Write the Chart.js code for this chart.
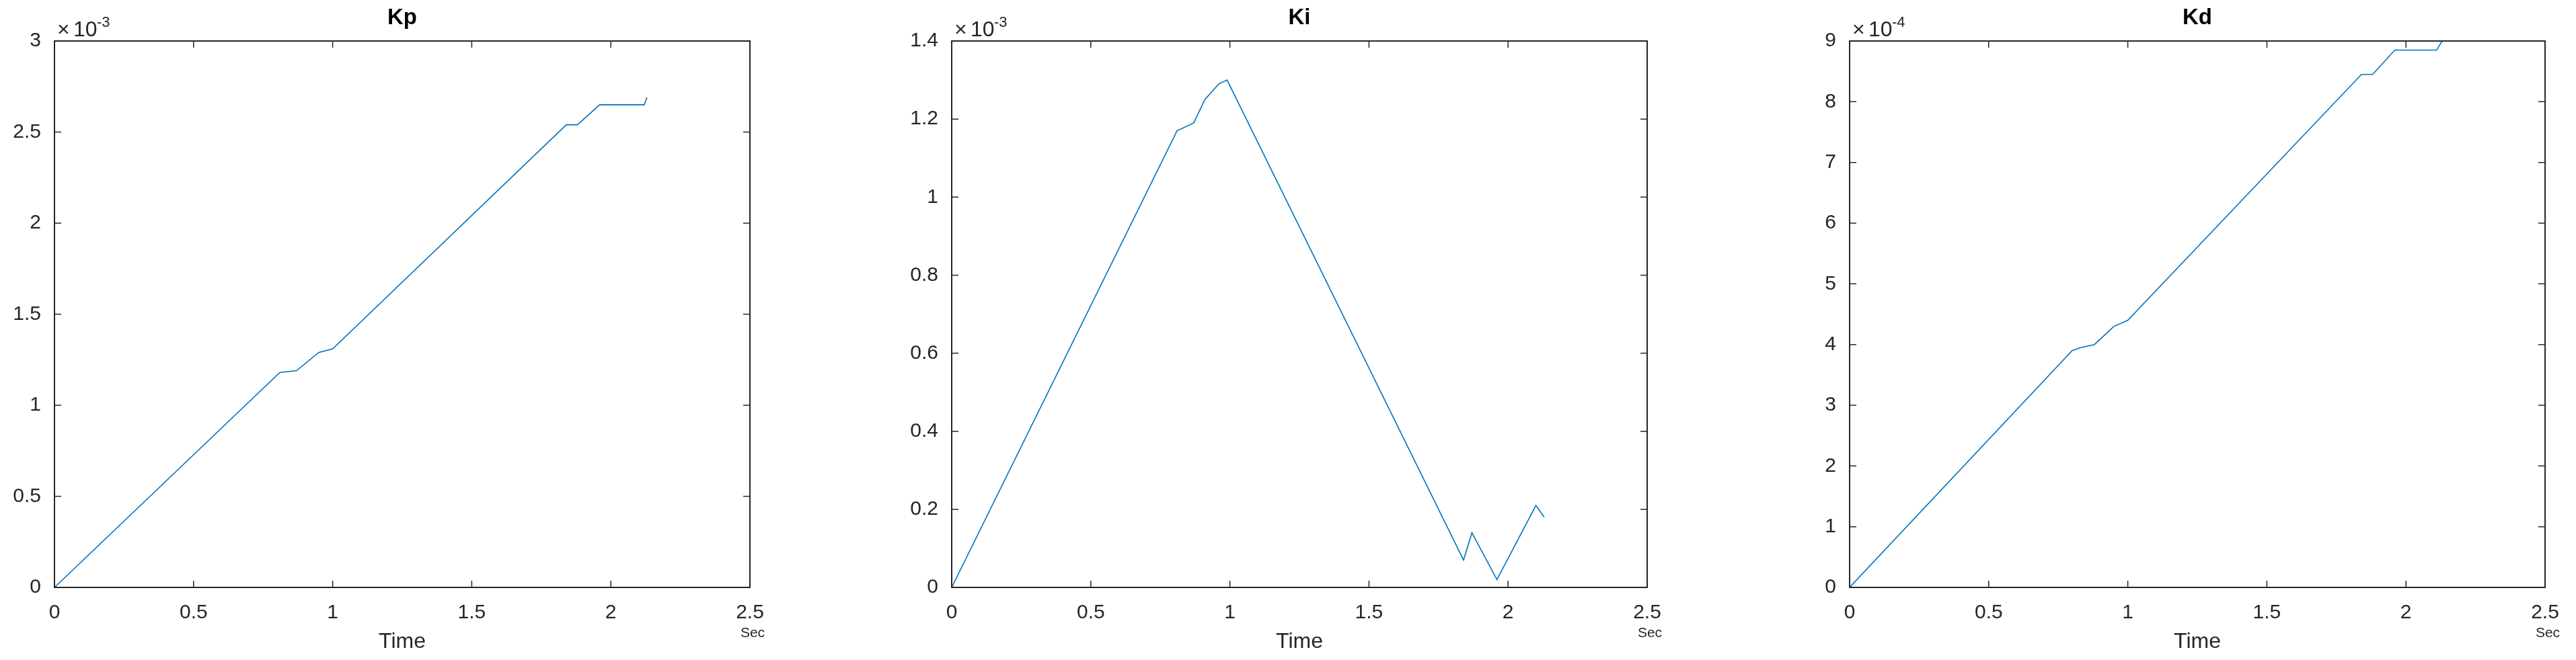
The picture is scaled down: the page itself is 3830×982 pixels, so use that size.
<!DOCTYPE html>
<html><head><meta charset="utf-8">
<script src="https://cdn.jsdelivr.net/npm/chart.js@4/dist/chart.umd.min.js"></script>
<style>body{margin:0;background:#fff;width:3830px;height:982px;position:relative;overflow:hidden}canvas{position:absolute;top:0}</style>
</head><body>
<div id="c1" style="position:absolute;left:1px;top:0;width:1152px;height:982px"><canvas id="k1"></canvas></div>
<div id="c2" style="position:absolute;left:1335px;top:0;width:1152px;height:982px"><canvas id="k2"></canvas></div>
<div id="c3" style="position:absolute;left:2670px;top:0;width:1152px;height:982px"><canvas id="k3"></canvas></div>
<script>
const kpTime = [0,0.81,0.87,0.95,1.0,1.84,1.88,1.96,2.12,2.13];
const kpVals = [0,1.18e-3,1.19e-3,1.29e-3,1.31e-3,2.54e-3,2.54e-3,2.65e-3,2.65e-3,2.69e-3];
const kiTime = [0,0.81,0.87,0.91,0.96,0.99,1.84,1.87,1.96,2.10,2.13];
const kiVals = [0,1.17e-3,1.19e-3,1.25e-3,1.29e-3,1.30e-3,0.07e-3,0.14e-3,0.02e-3,0.21e-3,0.18e-3];
const kdTime = [0,0.80,0.83,0.88,0.95,1.0,1.84,1.88,1.96,2.11,2.13];
const kdVals = [0,3.9e-4,3.95e-4,4.0e-4,4.3e-4,4.4e-4,8.45e-4,8.45e-4,8.85e-4,8.85e-4,9.0e-4];
const xTicks = [0,0.5,1,1.5,2,2.5];
const kpTicks = [0,0.5,1,1.5,2,2.5,3];
const kiTicks = [0,0.2,0.4,0.6,0.8,1,1.2,1.4];
const kdTicks = [0,1,2,3,4,5,6,7,8,9];

const FONT = "'Liberation Sans', Arial, sans-serif";
const boxPlugin = {
  id:'box',
  afterDraw(ch, args, o){
    const c=ch.ctx, a=ch.chartArea, xs=ch.scales.x, ys=ch.scales.y;
    c.save();
    c.strokeStyle='#262626'; c.lineWidth=2;
    c.strokeRect(a.left,a.top,a.right-a.left,a.bottom-a.top);
    c.lineWidth=1.5;
    xTicks.forEach(v=>{const p=xs.getPixelForValue(v);c.beginPath();c.moveTo(p,a.bottom);c.lineTo(p,a.bottom-10);c.moveTo(p,a.top);c.lineTo(p,a.top+10);c.stroke();});
    o.yt.forEach(v=>{const p=ys.getPixelForValue(v*o.sc);c.beginPath();c.moveTo(a.left,p);c.lineTo(a.left+10,p);c.moveTo(a.right,p);c.lineTo(a.right-10,p);c.stroke();});
    c.fillStyle='#000'; c.font='bold 33px '+FONT; c.textAlign='center'; c.textBaseline='alphabetic';
    c.fillText(o.title,(a.left+a.right)/2,36);
    c.fillStyle='#262626'; c.font='32px '+FONT;
    c.fillText('Time',(a.left+a.right)/2,964);
    c.font='21px '+FONT; c.fillText('Sec',a.right+4,948);
    c.textAlign='left'; c.font='32px '+FONT;
    c.fillText('\u00d7',a.left+4,54);
    c.fillText('10',a.left+28,54);
    c.font='22px '+FONT; c.fillText(o.exp,a.left+63,40);
    c.restore();
  }
};
function make(id, t, v, yt, sc, title, exp){
  const ymax = yt[yt.length-1]*sc;
  new Chart(document.getElementById(id),{
    type:'line',
    data:{datasets:[{data:t.map((x,i)=>({x:x,y:v[i]})),borderColor:'#0072BD',borderWidth:1.6,pointRadius:0,tension:0,fill:false}]},
    options:{
      responsive:true,maintainAspectRatio:false,animation:false,
      layout:{padding:{top:61,right:38,left:0,bottom:0}},
      plugins:{legend:{display:false},tooltip:{enabled:false},box:{yt:yt,sc:sc,title:title,exp:exp}},
      scales:{
        x:{type:'linear',min:0,max:2.5,afterBuildTicks(s){s.ticks=xTicks.map(q=>({value:q}));},
           afterFit(s){s.height=108;},
           grid:{display:false},border:{display:false},
           ticks:{color:'#262626',font:{size:30,family:FONT},padding:12,maxRotation:0,callback:q=>String(q)}},
        y:{type:'linear',min:0,max:ymax,afterBuildTicks(s){s.ticks=yt.map(q=>({value:q*sc}));},
           afterFit(s){s.width=80;},
           grid:{display:false},border:{display:false},
           ticks:{color:'#262626',font:{size:30,family:FONT},padding:12,callback:q=>String(Math.round(q/sc*10)/10)}}
      }
    },
    plugins:[boxPlugin]
  });
}
make('k1',kpTime,kpVals,kpTicks,1e-3,'Kp','-3');
make('k2',kiTime,kiVals,kiTicks,1e-3,'Ki','-3');
make('k3',kdTime,kdVals,kdTicks,1e-4,'Kd','-4');
</script>
</body></html>
